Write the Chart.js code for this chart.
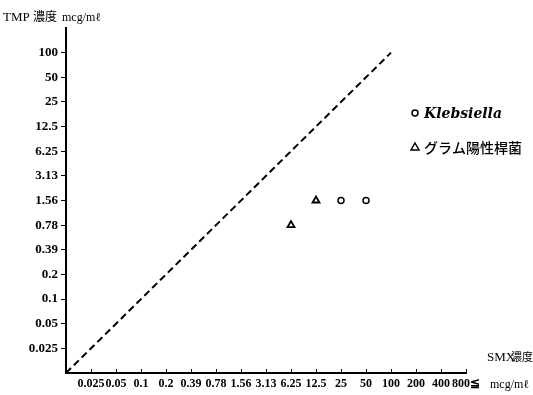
<!DOCTYPE html>
<html>
<head>
<meta charset="utf-8">
<script src="https://cdn.jsdelivr.net/npm/chart.js@4/dist/chart.umd.min.js"></script>
<style>
  body { margin: 0; background: #fff; }
  #box { width: 533px; height: 395px; }
</style>
</head>
<body>
<div id="box"><canvas id="chartBox"></canvas></div>
<script>
// MIC levels on both axes (two-fold dilutions)
const smxLevels = ['0.025', '0.05', '0.1', '0.2', '0.39', '0.78', '1.56', '3.13', '6.25', '12.5', '25', '50', '100', '200', '400', '800≦']
const tmpLevels = ['0.025', '0.05', '0.1', '0.2', '0.39', '0.78', '1.56', '3.13', '6.25', '12.5', '25', '50', '100']

const klebsiellaSMX = ['25', '50']
const klebsiellaTMP = ['1.56', '1.56']
const gramPosSMX = ['12.5', '6.25']
const gramPosTMP = ['1.56', '0.78']

const serif = '"Liberation Serif", "DejaVu Serif", serif'
const jp = '"Noto Sans CJK JP", sans-serif'

const toPoints = (xs, ys) => xs.map((x, i) => ({
    x: smxLevels.indexOf(x) + 1,
    y: tmpLevels.indexOf(ys[i]) + 1
}))

// small marks pointing up from the x axis, plus the free text
const extras = {
    id: 'extras',
    afterDraw(chart) {
        const ctx = chart.ctx
        const xs = chart.scales.x
        const area = chart.chartArea
        ctx.save()
        ctx.strokeStyle = '#000'
        ctx.lineWidth = 1
        for (let i = 1; i <= smxLevels.length; i++) {
            const px = Math.round(xs.getPixelForValue(i)) + 0.5
            ctx.beginPath()
            ctx.moveTo(px, area.bottom)
            ctx.lineTo(px, area.bottom - 4)
            ctx.stroke()
        }
        ctx.fillStyle = '#000'
        ctx.textBaseline = 'alphabetic'
        ctx.textAlign = 'left'
        ctx.font = '13px ' + serif
        ctx.fillText('TMP', 3, 21)
        ctx.font = '12px ' + jp
        ctx.fillText('濃度', 33, 21)
        ctx.font = '12px ' + serif
        ctx.fillText('mcg/mℓ', 62, 21)

        ctx.font = '13px ' + serif
        ctx.fillText('SMX', 487, 361)
        ctx.font = '11px ' + jp
        ctx.fillText('濃度', 511, 361)
        ctx.font = '12px ' + serif
        ctx.fillText('mcg/mℓ', 490, 388)

        // legend
        const lx = area.right - 51
        chart.data.datasets.slice(1).forEach((ds, i) => {
            const ly = 113 + i * 34
            ctx.lineWidth = 1.5
            ctx.strokeStyle = '#000'
            ctx.fillStyle = '#fff'
            ctx.beginPath()
            if (ds.pointStyle === 'circle') {
                ctx.arc(lx, ly, 3, 0, Math.PI * 2)
            } else {
                ctx.moveTo(lx, ly - 4)
                ctx.lineTo(lx + 4, ly + 3)
                ctx.lineTo(lx - 4, ly + 3)
                ctx.closePath()
            }
            ctx.fill()
            ctx.stroke()
            ctx.fillStyle = '#000'
            ctx.textBaseline = 'middle'
            ctx.font = i === 0 ? 'italic bold 14px "DejaVu Serif", serif' : '500 14px ' + jp
            ctx.fillText(ds.label, lx + 9, ly + 1)
        })
        ctx.restore()
    }
}

const context = document.querySelector('#chartBox').getContext('2d')
const chart = new Chart(context, {
    type: 'scatter',
    data: {
        datasets: [{
            type: 'line',
            label: 'equal',
            data: [{ x: 0, y: 0 }, { x: 13, y: 13 }],
            borderColor: '#000',
            borderWidth: 2,
            borderDash: [7, 4],
            pointRadius: 0
        }, {
            label: 'Klebsiella',
            data: toPoints(klebsiellaSMX, klebsiellaTMP),
            pointStyle: 'circle',
            pointRadius: 3,
            borderWidth: 1.5,
            borderColor: '#000',
            backgroundColor: '#fff'
        }, {
            label: 'グラム陽性桿菌',
            data: toPoints(gramPosSMX, gramPosTMP),
            pointStyle: 'triangle',
            pointRadius: 4,
            borderWidth: 1.8,
            borderColor: '#000',
            backgroundColor: '#fff'
        }]
    },
    options: {
        responsive: true,
        maintainAspectRatio: false,
        animation: false,
        layout: { padding: { top: 28, right: 67, left: 0, bottom: 0 } },
        plugins: { legend: { display: false }, tooltip: { enabled: false } },
        scales: {
            x: {
                type: 'linear',
                min: 0,
                max: 16,
                afterBuildTicks: s => { s.ticks = smxLevels.map((l, i) => ({ value: i + 1 })) },
                afterFit: s => { s.height = 22 },
                ticks: {
                    autoSkip: false,
                    maxRotation: 0,
                    padding: 4,
                    color: '#000',
                    font: { family: serif, size: 12, weight: 'bold' },
                    callback: v => smxLevels[v - 1] || ''
                },
                grid: { display: true, drawOnChartArea: false, tickLength: 0 },
                border: { display: true, color: '#000', width: 2 }
            },
            y: {
                type: 'linear',
                min: 0,
                max: 14,
                afterBuildTicks: s => { s.ticks = tmpLevels.map((l, i) => ({ value: i + 1 })) },
                afterFit: s => { s.width = 66 },
                ticks: {
                    autoSkip: false,
                    padding: 3,
                    color: '#000',
                    font: { family: serif, size: 13, weight: 'bold' },
                    callback: v => tmpLevels[v - 1] || ''
                },
                grid: { display: true, drawOnChartArea: false, tickLength: 5, color: '#000', lineWidth: 1 },
                border: { display: true, color: '#000', width: 2 }
            }
        }
    },
    plugins: [extras]
})
</script>
</body>
</html>
